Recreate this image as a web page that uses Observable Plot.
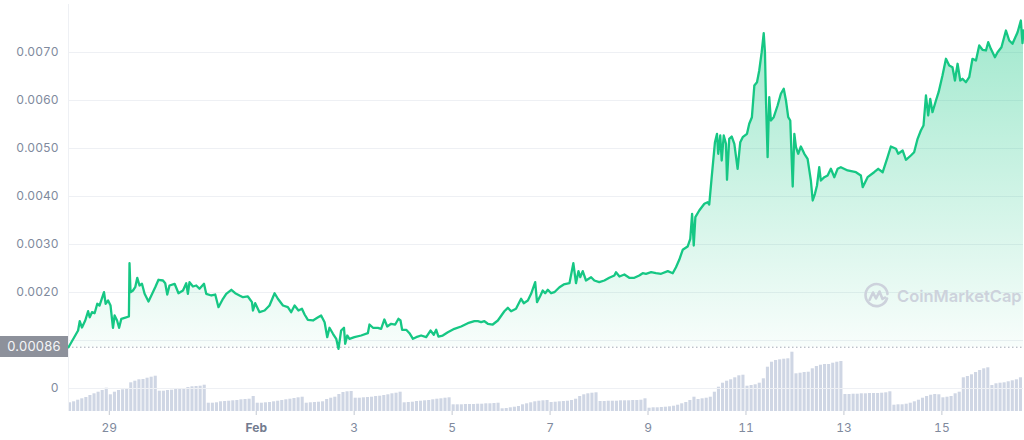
<!DOCTYPE html>
<html>
<head>
<meta charset="utf-8">
<script src="https://cdn.jsdelivr.net/npm/d3@7"></script>
<script src="https://cdn.jsdelivr.net/npm/@observablehq/plot@0.6"></script>
<style>
html, body { margin: 0; padding: 0; background: #ffffff; }
#wrap { position: relative; width: 1024px; height: 440px; overflow: hidden; font-family: Inter, "Noto Sans", sans-serif; }
#wrap > svg { position: absolute; left: 0; top: 0; }
#priceTag { position: absolute; left: 0; width: 68px; height: 21px; background: #8d919b; color: #f5f6f8; font-size: 13px; line-height: 21px; text-align: center; letter-spacing: 0.2px; }
#wm { position: absolute; left: 863px; top: 282px; display: flex; align-items: center; gap: 7px; color: #cdd2dc; font-size: 16.5px; font-weight: 600; white-space: nowrap; }
</style>
</head>
<body>
<div id="wrap"></div>
<script>
// ---------- data ----------
// price series: hours since 2022-01-28 00:00 UTC, and price (USD)
const seriesStart = "2022-01-28T00:00:00Z";
const priceHours = [
  4, 8.7, 9.5, 10.6, 12.2, 13.6, 14.4, 15.5, 16.8, 18.1,
  19.2, 21.4, 22.2, 23.4, 24.6, 25.8, 26.6, 27.8, 28.8, 29.9,
  31.5, 33.6, 33.9, 34.4, 35.6, 36.7, 37.7, 38.8, 40.0, 41.3,
  43.2, 44.6, 46.5, 48.1, 50.3, 51.4, 52.4, 53.5, 56.0, 57.9,
  60.1, 61.7, 62.5, 63.3, 65.0, 66.6, 68.2, 70.4, 71.5, 74.0,
  75.9, 77.5, 79.7, 81.3, 83.8, 85.7, 87.8, 89.5, 91.9, 93.9,
  94.4, 95.5, 97.6, 100.1, 102.5, 105.0, 106.6, 109.1, 111.5, 113.1,
  114.8, 116.7, 118.4, 119.7, 121.3, 123.8, 125.9, 127.8, 129.5, 130.8,
  131.9, 133.6, 135.2, 136.3, 137.6, 139.0, 139.6, 140.6, 141.7, 144.1,
  147.4, 150.7, 151.5, 153.2, 155.6, 157.2, 158.8, 160.2, 162.1, 164.1,
  165.7, 166.7, 167.5, 169.5, 171.1, 172.8, 174.4, 176.8, 179.3, 181.4,
  183.0, 184.2, 185.3, 187.4, 189.9, 193.1, 196.4, 199.7, 202.9, 204.6,
  206.2, 207.8, 209.5, 211.9, 214.4, 217.6, 219.3, 220.9, 223.3, 225.8,
  227.1, 229.1, 230.7, 232.7, 233.6, 235.3, 236.4, 237.6, 238.9, 240.5,
  242.1, 244.6, 246.7, 249.5, 251.4, 252.7, 253.9, 254.8, 256.0, 257.6,
  260.1, 261.7, 264.1, 266.6, 269.0, 271.5, 272.3, 274.0, 276.4, 278.8,
  281.3, 283.7, 285.4, 287.0, 289.5, 291.9, 294.4, 297.7, 300.1, 301.7,
  303.3, 305.0, 307.4, 308.7, 309.6, 310.4, 311.2, 313.1, 315.6, 317.2,
  318.0, 319.2, 320.8, 321.8, 322.4, 323.4, 324.1, 325.1, 326.2, 326.7,
  327.8, 329.0, 330.3, 331.9, 333.2, 334.4, 336.5, 337.6, 338.9, 340.1,
  341.4, 342.5, 343.7, 344.7, 345.3, 345.8, 346.6, 347.4, 348.2, 349.6,
  351.5, 353.1, 354.5, 355.6, 356.7, 357.7, 358.9, 359.7, 360.5, 361.6,
  362.9, 364.6, 366.2, 367.8, 368.7, 369.8, 370.8, 371.9, 372.7, 374.4,
  376.0, 377.6, 379.3, 380.9, 382.5, 385.8, 389.9, 392.3, 393.2, 395.6,
  398.8, 400.8, 403.0, 405.4, 407.0, 409.5, 410.6, 412.8, 414.4, 416.8,
  418.4, 420.1, 421.7, 423.0, 424.2, 425.3, 426.3, 427.4, 429.1, 430.4,
  432.3, 434.0, 435.6, 437.2, 438.4, 439.7, 441.0, 442.1, 443.8, 445.4,
  447.0, 448.7, 450.3, 451.9, 453.6, 454.7, 456.0, 458.0, 459.3, 461.2,
  463.4, 465.0, 466.6, 469.1, 470.7, 471.5, 472.0
];
const priceValues = [
  0.00086, 0.001208, 0.001402, 0.001271, 0.001417, 0.00161, 0.001485, 0.00159, 0.001569, 0.001765,
  0.001729, 0.002006, 0.001765, 0.001833, 0.001729, 0.001265, 0.001521, 0.001417, 0.001265, 0.001452,
  0.001473, 0.0015, 0.00261, 0.002006, 0.002042, 0.00211, 0.002306, 0.002146, 0.002181, 0.001973,
  0.001813, 0.001938, 0.00211, 0.002265, 0.00225, 0.002194, 0.001958, 0.002146, 0.002181, 0.001985,
  0.002042, 0.002194, 0.001973, 0.002215, 0.002125, 0.002146, 0.002077, 0.002181, 0.001973, 0.001938,
  0.001958, 0.001694, 0.001869, 0.001973, 0.002056, 0.001985, 0.001938, 0.001902, 0.001917, 0.001798,
  0.001625, 0.001777, 0.00159, 0.001625, 0.001729, 0.001985, 0.001869, 0.001729, 0.001694, 0.00159,
  0.001729, 0.001625, 0.00166, 0.001542, 0.001431, 0.001417, 0.001473, 0.001521, 0.001381, 0.001069,
  0.001265, 0.00114, 0.001035, 0.000827, 0.001208, 0.001265, 0.000931, 0.001104, 0.001035, 0.001069,
  0.001104, 0.001152, 0.001333, 0.001265, 0.001265, 0.001244, 0.001438, 0.001292, 0.001348, 0.001333,
  0.001452, 0.001417, 0.001223, 0.001223, 0.001152, 0.001035, 0.001069, 0.001104, 0.001069, 0.001208,
  0.001119, 0.001223, 0.001083, 0.001104, 0.001173, 0.001244, 0.001292, 0.00136, 0.001402, 0.001402,
  0.001381, 0.001402, 0.001348, 0.001333, 0.001417, 0.00161, 0.001681, 0.00161, 0.00166, 0.001869,
  0.001777, 0.001833, 0.001973, 0.002215, 0.001798, 0.001938, 0.002042, 0.001985, 0.002056, 0.001985,
  0.002006, 0.00211, 0.002167, 0.002194, 0.00261, 0.002194, 0.002444, 0.002319, 0.002444, 0.00225,
  0.002319, 0.00225, 0.002215, 0.00225, 0.002306, 0.002354, 0.002423, 0.002333, 0.002375, 0.002306,
  0.002306, 0.002354, 0.002402, 0.00239, 0.002423, 0.002402, 0.00239, 0.002444, 0.002402, 0.002527,
  0.002681, 0.00289, 0.002958, 0.003119, 0.00364, 0.002979, 0.003569, 0.003708, 0.003848, 0.003881,
  0.003833, 0.004402, 0.005131, 0.005306, 0.00489, 0.005271, 0.00475, 0.005271, 0.005098, 0.004348,
  0.005202, 0.00525, 0.005098, 0.004577, 0.005131, 0.005235, 0.005306, 0.005515, 0.005652, 0.006313,
  0.006381, 0.006625, 0.007006, 0.007402, 0.007006, 0.006, 0.004819, 0.006069, 0.005583, 0.005652,
  0.005896, 0.00614, 0.006244, 0.006, 0.005652, 0.005583, 0.004208, 0.005306, 0.005027, 0.00489,
  0.005042, 0.00489, 0.004785, 0.004333, 0.003917, 0.004056, 0.004229, 0.00461, 0.004333, 0.004402,
  0.004438, 0.004577, 0.004402, 0.004577, 0.00461, 0.004542, 0.004506, 0.004438, 0.004194, 0.004402,
  0.004506, 0.004577, 0.004506, 0.004819, 0.005042, 0.004994, 0.00489, 0.004958, 0.004765, 0.004854,
  0.004923, 0.005202, 0.005375, 0.005479, 0.006104, 0.005688, 0.006035, 0.005756, 0.006, 0.006173,
  0.006521, 0.006869, 0.006729, 0.006694, 0.006417, 0.006765, 0.006417, 0.006452, 0.006381, 0.006485,
  0.006869, 0.006833, 0.007146, 0.007056, 0.007042, 0.007215, 0.007077, 0.006902, 0.007006, 0.00711,
  0.007458, 0.00725, 0.007181, 0.007423, 0.007667, 0.007194, 0.007458
];
// reference (opening) price shown in the grey tag
const openPrice = 0.00086;

// volume bars: 2-hour buckets from hour 4 (rolling daily volume, arbitrary units)
const volumeStartHour = 4;
const volumeStepHours = 2;
const volume = [
  8.7, 9.7, 11.3, 12.7, 14, 16, 17.7, 19.3, 21, 23.3,                         // Jan 28
  16.7, 19.3, 21, 21.7, 22, 28.7, 30.3, 31.7, 32, 33.3, 34.3, 35.3,            // Jan 29
  20.3, 20.3, 21, 21.3, 22, 22.3, 23, 24, 24.7, 25, 25.3, 26.3,                // Jan 30
  8.3, 8.3, 8.7, 9.7, 10, 10.3, 10.7, 11, 11.7, 12, 12.3, 15,                  // Jan 31
  8.3, 8.3, 8.7, 9, 9.7, 10.3, 11, 11.7, 12.3, 13, 13.7, 14.3,                 // Feb 1
  8.3, 8.7, 9, 9.3, 9.7, 12, 13.3, 14.3, 17, 19, 19.7, 20,                     // Feb 2
  13.3, 13.3, 13.7, 14, 14.3, 15, 15.3, 16, 16.7, 17.7, 18.3, 19.3,            // Feb 3
  8.7, 9, 9.3, 10, 10.3, 10.7, 11, 11.7, 12.3, 12.7, 13.3, 13.7,               // Feb 4
  6.7, 6.7, 6.7, 7, 7, 7, 7.3, 7.3, 7.7, 7.7, 8, 8.3,                          // Feb 5
  2.7, 3, 3.7, 4.3, 5, 6.7, 7.7, 8.7, 9.7, 10.3, 10.7, 11,                     // Feb 6
  9, 9.3, 9.7, 10, 10.3, 11, 12.3, 15, 16.7, 17.7, 18.3, 18.7,                 // Feb 7
  10, 10, 10.3, 10.3, 10.3, 10.7, 10.7, 10.7, 11, 11, 11.3, 12.7,              // Feb 8
  3.3, 3.7, 3.7, 4, 4.3, 4.7, 5.3, 6.3, 7.7, 9, 11, 14.3,                      // Feb 9
  12, 12.7, 13.3, 14.3, 19.3, 24.3, 28.3, 30.3, 31.7, 33.7, 35.7, 36.3,        // Feb 10
  25.3, 26, 26.7, 28.3, 32.7, 44.3, 49.3, 51, 51.7, 52.3, 52.7, 59.3,          // Feb 11
  37.7, 38.3, 39, 39.3, 42.7, 45, 46.3, 47, 47, 48.3, 49.3, 50,                // Feb 12
  17, 17, 17.3, 17.3, 17.7, 17.7, 18, 18, 18, 18.3, 18.7, 19.7,                // Feb 13
  6.3, 6.7, 6.7, 7.3, 8.3, 9.7, 11.3, 13.3, 15, 16.3, 17, 16.7,                // Feb 14
  13.7, 14.3, 15, 17.7, 19.3, 33.7, 35, 36.7, 39, 41, 42.7, 43.7,              // Feb 15
  26, 27.7, 28.3, 28.7, 29.7, 30.7, 31.7, 33.7                                 // Feb 16
];

// axis ticks (gridlines at every step; the 0.0010 label sits under the price tag)
const yGrid = [0, 0.001, 0.002, 0.003, 0.004, 0.005, 0.006, 0.007];
const yLabels = [0, 0.002, 0.003, 0.004, 0.005, 0.006, 0.007];
const xTickDates = ["2022-01-29", "2022-02-01", "2022-02-03", "2022-02-05", "2022-02-07",
                    "2022-02-09", "2022-02-11", "2022-02-13", "2022-02-15"];
const monthNames = ["Jan", "Feb", "Mar"];

// ---------- build ----------
if (priceHours.length !== priceValues.length) console.warn("price arrays length mismatch");
const t0 = Date.parse(seriesStart);
const toDate = h => new Date(t0 + h * 3600e3);
const priceData = priceHours.map((h, i) => ({date: toDate(h), price: priceValues[i]}));
const volData = volume.map((v, i) => ({
  d1: toDate(volumeStartHour + i * volumeStepHours),
  d2: toDate(volumeStartHour + (i + 1) * volumeStepHours),
  v
}));
const xTicks = xTickDates.map(s => new Date(s + "T00:00:00Z"));
const xDomain = [toDate(priceHours[0]), toDate(priceHours[priceHours.length - 1])];

const W = 1024, H = 440, mL = 68, mR = 1, mB = 29, mT = 4;
const yBottom = -0.000479167;

const volPlot = Plot.plot({
  width: W, height: H,
  marginLeft: mL, marginRight: mR, marginTop: 311, marginBottom: mB,
  style: {background: "transparent"},
  x: {type: "utc", domain: xDomain, axis: null},
  y: {domain: [0, 100], axis: null},
  marks: [
    Plot.rectY(volData, {x1: "d1", x2: "d2", y: "v", fill: "#cfd6e4", insetRight: 1, clip: true})
  ]
});

const pricePlot = Plot.plot({
  width: W, height: H,
  marginLeft: mL, marginRight: mR, marginTop: mT, marginBottom: mB,
  style: {background: "transparent", fontFamily: "Inter, 'Noto Sans', sans-serif", fontSize: "12px", color: "#808a9d"},
  x: {type: "utc", domain: xDomain, label: null},
  y: {domain: [yBottom, 0.008], label: null},
  marks: [
    Plot.ruleY(yGrid, {stroke: "#eef0f4", strokeWidth: 1}),
    Plot.ruleX([xDomain[0]], {stroke: "#eef0f4"}),
    Plot.areaY(priceData, {x: "date", y1: openPrice, y2: "price", fill: "url(#priceGrad)"}),
    Plot.ruleY([openPrice], {stroke: "#a3a9b5", strokeDasharray: "1.5,2.5"}),
    Plot.lineY(priceData, {x: "date", y: "price", stroke: "#16c784", strokeWidth: 2.3, strokeLinejoin: "round"}),
    Plot.axisY(yLabels, {tickSize: 0, tickPadding: 10, fill: "#808a9d", label: null,
      tickFormat: d => d === 0 ? "0" : d.toFixed(4)}),
    Plot.axisX(xTicks, {tickSize: 4, tickPadding: 8, stroke: "#c3c8d1", fill: "#808a9d", label: null,
      tickFormat: d => d.getUTCDate() === 1 ? monthNames[d.getUTCMonth()] : String(d.getUTCDate())})
  ]
});

const yScale = pricePlot.scale("y");
const sel = d3.select(pricePlot);
const defs = sel.insert("defs", ":first-child");
const grad = defs.append("linearGradient")
  .attr("id", "priceGrad")
  .attr("gradientUnits", "userSpaceOnUse")
  .attr("x1", 0).attr("x2", 0)
  .attr("y1", yScale.apply(0.0076)).attr("y2", yScale.apply(openPrice));
grad.append("stop").attr("offset", "0%").attr("stop-color", "#16c784").attr("stop-opacity", 0.4);
grad.append("stop").attr("offset", "100%").attr("stop-color", "#16c784").attr("stop-opacity", 0.03);

sel.selectAll("text").filter(function() { return this.textContent === "Feb"; })
  .attr("font-weight", "bold").attr("fill", "#737c8f");

const wrap = document.getElementById("wrap");
wrap.appendChild(volPlot);
wrap.appendChild(pricePlot);

// opening price tag
const tag = document.createElement("div");
tag.id = "priceTag";
tag.textContent = String(openPrice);
tag.style.top = (yScale.apply(openPrice) - 10.5) + "px";
wrap.appendChild(tag);

// watermark
const wm = document.createElement("div");
wm.id = "wm";
wm.innerHTML = '<svg width="27" height="27" viewBox="0 0 27 27"><path d="M24 16.5 A11 11 0 1 1 24.5 12" fill="none" stroke="#cdd2dc" stroke-width="2.6" stroke-linecap="round"/><polyline points="6.5,18 10,10.5 13,16.5 16.5,9.5 19.5,17 22,15.5" fill="none" stroke="#cdd2dc" stroke-width="2.6" stroke-linejoin="round" stroke-linecap="round"/></svg><span>CoinMarketCap</span>';
wrap.appendChild(wm);
</script>
</body>
</html>
